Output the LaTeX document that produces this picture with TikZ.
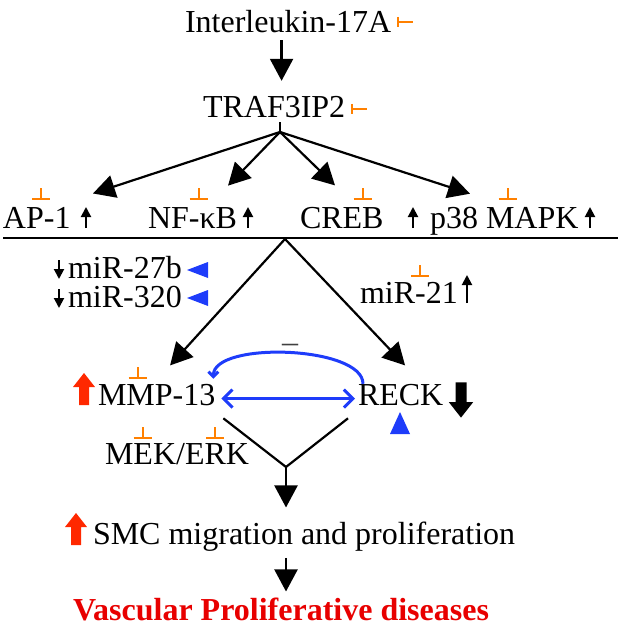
\documentclass[tikz,border=0pt]{standalone}
\usepackage{fontspec}
\setmainfont{Liberation Serif}
\usetikzlibrary{arrows.meta}
\definecolor{inhorange}{RGB}{255,128,0}
\definecolor{sigblue}{RGB}{30,60,250}
\definecolor{upred}{RGB}{255,40,0}
\definecolor{disred}{RGB}{232,0,0}

\begin{document}
\begin{tikzpicture}[x=0.5pt, y=-0.5pt,
    every node/.style={inner sep=0pt, outer sep=0pt},
    lbl/.style={anchor=base west, font=\fontsize{16}{19}\selectfont},
    conn/.style={line width=1.1pt},
    arrow/.style={line width=1.1pt, -{Triangle[length=11pt, width=11.5pt]}},
    smallarrow/.style={line width=1pt, -{Triangle[length=5pt, width=5pt]}},
    bluearrow/.style={sigblue, line width=1.5pt},
    inhb/.pic={\draw[inhorange, line width=1pt] (-9,0) -- (9,0) (0,0) -- (0,-11);},
    inhtee/.pic={\draw[inhorange, line width=1pt] (0,-5) -- (0,5) (0,0) -- (15,0);},
    blockup/.pic={\fill (0,-16) -- (11,-2) -- (5,-2) -- (5,16) -- (-5,16) -- (-5,-2) -- (-11,-2) -- cycle;},
    trileft/.pic={\fill[sigblue] (-10,0) -- (11,-8) -- (11,8) -- cycle;},
    triup/.pic={\fill[sigblue] (0,-11) -- (10,11) -- (-10,11) -- cycle;}
    ]
    \useasboundingbox (0,0) rectangle (623,631);

    % Receptor and adaptor
    \node[lbl] (il17) at (185,33) {Interleukin-17A};
    \pic at (398,22) {inhtee};
    \node[lbl] (traf) at (203,118) {TRAF3IP2};
    \pic at (352,109) {inhtee};
    \draw[arrow, shorten <=3.5pt, shorten >=8pt] ([xshift=-3.25pt]il17.south) -- ([xshift=-3.25pt]il17.south |- traf.north);

    % Transcription factors / kinases
    \node[lbl] (ap1) at (3,228) {AP-1};
    \node[lbl] (nfkb) at (148,228) {NF-κB};
    \node[lbl] (creb) at (300,228) {CREB};
    \node[lbl] (p38) at (430,228) {p38 MAPK};
    \foreach \x in {41,198.5,362.5,507.5}
        \pic at (\x,199) {inhb};
    \foreach \x in {86,248,413,590}
        \draw[smallarrow] (\x,228) -- (\x,207);

    \coordinate (fan) at (280,132);
    \draw[conn, shorten >=2pt] (fan) -- (fan |- traf.south);
    \draw[arrow] (fan) -- ([xshift=11.2pt, yshift=6.7pt]ap1.north east);
    \draw[arrow] (fan) -- ([xshift=-4.5pt, yshift=10.7pt]nfkb.north east);
    \draw[arrow] (fan) -- ([xshift=17.5pt, yshift=10.7pt]creb.north west);
    \draw[arrow] (fan) -- ([xshift=20pt, yshift=6.5pt]p38.north west);

    \draw[conn] (3,238) -- (618,238);
    \coordinate (split) at (285,239);

    % microRNAs
    \node[lbl] (mir27) at (68,278) {miR-27b};
    \node[lbl] (mir320) at (68,307) {miR-320};
    \draw[smallarrow] (59,260) -- (59,279);
    \draw[smallarrow] (59,289) -- (59,308);
    \pic at (197,270) {trileft};
    \pic at (197,298) {trileft};
    \node[lbl] (mir21) at (360,303) {miR-21};
    \pic at (420,276) {inhb};
    \draw[smallarrow] (467,303) -- (467,275);

    % MMP-13 and RECK
    \node[lbl] (mmp) at (98,405) {MMP-13};
    \node[lbl] (reck) at (358,405) {RECK};
    \pic[fill=upred] at (84,389) {blockup};
    \pic at (137.5,378) {inhb};
    \pic[fill=black, rotate=180, scale=1.1] at (461,400) {blockup};
    \pic at (400,423) {triup};
    \draw[arrow] (split) -- ([xshift=6.7pt, yshift=9.2pt]mmp.north);
    \draw[arrow] (split) -- ([xshift=2.2pt, yshift=9.2pt]reck.north);

    \node[lbl, text=black!75] (neg) at (282,352) {–};
    \draw[bluearrow, -{Straight Barb[length=2.5pt, width=5pt]}] ([xshift=2.5pt]reck.north west) .. controls +(0,-38) and +(0,-38) .. ([xshift=-1pt, yshift=2.5pt]mmp.north east);
    \draw[bluearrow, {Straight Barb[length=4.5pt, width=9pt]}-{Straight Barb[length=4.5pt, width=9pt]}] ([xshift=3pt, yshift=-2pt]mmp.east) -- ([xshift=-1.5pt, yshift=-2pt]reck.west);

    \node[lbl] (mek) at (105,464) {MEK/ERK};
    \pic at (142.5,438) {inhb};
    \pic at (215,438) {inhb};

    % Outcome
    \coordinate (vjoin) at (286,467);
    \draw[conn] ([xshift=4pt, yshift=-6.5pt]mmp.south east) -- (vjoin) -- ([xshift=-5pt, yshift=-6.5pt]reck.south west);
    \node[lbl] (smc) at (93,544) {SMC migration and proliferation};
    \pic[fill=upred] at (76,529) {blockup};
    \draw[arrow, shorten >=7pt] (vjoin) -- (vjoin |- smc.north);

    \node[lbl, text=disred, font=\fontsize{16}{19}\selectfont\bfseries] (vpd) at (73,620) {Vascular Proliferative diseases};
    \draw[arrow, shorten <=3.5pt, shorten >=3pt] (vjoin |- smc.south) -- (vjoin |- vpd.north);
\end{tikzpicture}
\end{document}
